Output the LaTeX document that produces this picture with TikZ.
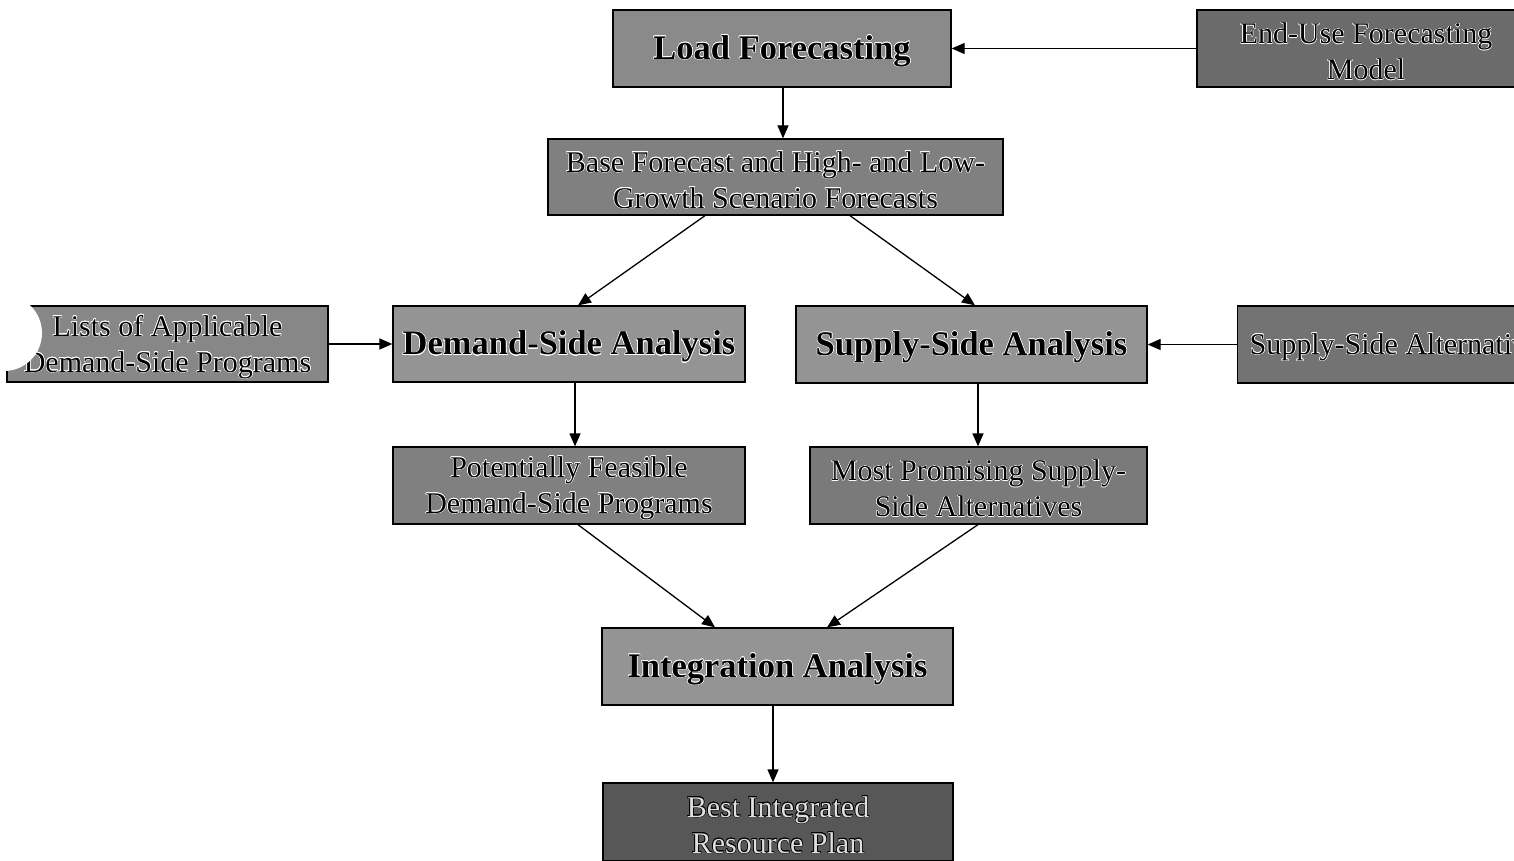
\documentclass[tikz,border=0pt]{standalone}
\usepackage{fontspec}
\setmainfont{Liberation Serif}
\usepackage{contour}
\contourlength{0.5pt}
\contournumber{16}
\usetikzlibrary{arrows.meta,calc}
\newcommand{\ct}[1]{\raisebox{-3pt}[\height][\depth]{\contour{white}{#1}}}
\newcommand{\ctd}[1]{\raisebox{-3pt}[\height][\depth]{\contour{black}{\textcolor{gray!25}{#1}}}}
\tikzset{
  box/.style={draw=black, line width=1.3pt, fill=black!45, inner sep=0pt, align=center,
    font=\fontsize{30}{36}\selectfont},
  boldbox/.style={box, font=\fontsize{34.5}{40}\selectfont\bfseries},
  arr/.style={line width=1.3pt, -{Triangle[length=13pt,width=11pt]}}
}
\begin{document}
\begin{tikzpicture}[x=1pt,y=-1pt]
\useasboundingbox (0,0) rectangle (1514,861);
\clip (0,0) rectangle (1514,861);
\node[boldbox, fill=black!46, minimum width=338pt, minimum height=77pt] (load) at (782,48.5) {\ct{Load Forecasting}};
\node[box, fill=black!58, minimum width=338pt, minimum height=77pt] (enduse) at (1366,48.5) {\ct{End-Use Forecasting}\\\ct{Model}};
\node[box, fill=black!50, minimum width=455pt, minimum height=76pt] (base) at (775.5,177) {\ct{Base Forecast and High- and Low-}\\\ct{Growth Scenario Forecasts}};
\node[box, fill=black!47, minimum width=321pt, minimum height=76pt] (lists) at (167.5,344) {\ct{Lists of Applicable}\\\ct{Demand-Side Programs}};
\fill[white] (4,333) circle (38pt);
\node[boldbox, fill=black!42, minimum width=352pt, minimum height=76pt] (dem) at (569,344) {\ct{Demand-Side Analysis}};
\node[boldbox, fill=black!42, minimum width=351pt, minimum height=77pt] (sup) at (971.5,344.5) {\ct{Supply-Side Analysis}};
\node[box, fill=black!55, minimum height=77pt, anchor=west] (salt) at (1237,344.5) {\hspace{12pt}\ct{Supply-Side Alternatives}\hspace{12pt}};
\node[box, fill=black!50, minimum width=352pt, minimum height=77pt] (pot) at (569,485.5) {\ct{Potentially Feasible}\\\ct{Demand-Side Programs}};
\node[box, fill=black!52, minimum width=337pt, minimum height=77pt] (most) at (978.5,485.5) {\ct{Most Promising Supply-}\\\ct{Side Alternatives}};
\node[boldbox, fill=black!42, minimum width=351pt, minimum height=77pt] (integ) at (777.5,666.5) {\ct{Integration Analysis}};
\node[box, fill=black!66, minimum width=350pt, minimum height=78pt] (best) at (778,822) {\ctd{Best Integrated}\\\ctd{Resource Plan}};
\draw[arr] (enduse.west) -- (load.east);
\draw[arr] ([xshift=1pt]load.south) -- ([xshift=1pt]load.south |- base.north);
\draw[arr] ([xshift=-70.5pt]base.south) -- ([xshift=9pt]dem.north);
\draw[arr] ([xshift=74.5pt]base.south) -- ([xshift=3.5pt]sup.north);
\draw[arr] (lists.east) -- (dem.west);
\draw[arr] (salt.west) -- (sup.east);
\draw[arr] ([xshift=6pt]dem.south) -- ([xshift=6pt]dem.south |- pot.north);
\draw[arr] ([xshift=6.5pt]sup.south) -- ([xshift=6.5pt]sup.south |- most.north);
\draw[arr] ([xshift=9pt]pot.south) -- ([xshift=-62.5pt]integ.north);
\draw[arr] ([xshift=-0.5pt]most.south) -- ([xshift=49.5pt]integ.north);
\draw[arr] ([xshift=-4.5pt]integ.south) -- ([xshift=-4.5pt]integ.south |- best.north);
\end{tikzpicture}
\end{document}
